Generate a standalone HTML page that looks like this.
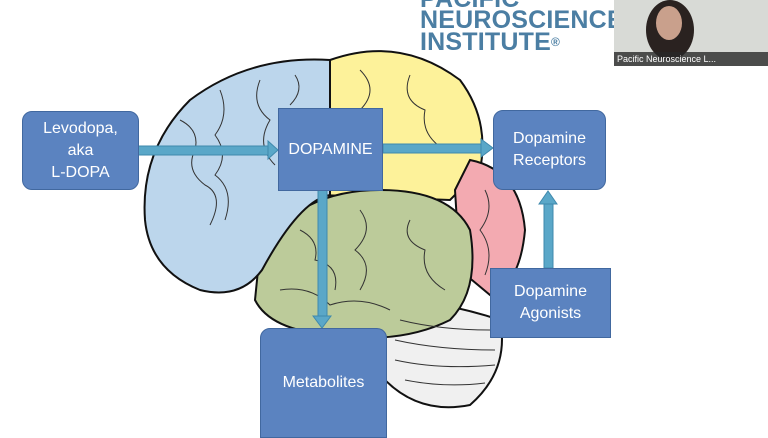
<!DOCTYPE html>
<html><head><meta charset="utf-8"><style>
body{margin:0;width:768px;height:432px;background:#fff;overflow:hidden;position:relative;font-family:"Liberation Sans",sans-serif}
.b{position:absolute;background:#5b83c0;border:1.5px solid #41689f;color:#fff;display:flex;align-items:center;justify-content:center;text-align:center;font-size:16px;line-height:22px;box-sizing:border-box}
.logo{position:absolute;left:420px;color:#4b7ea3;font-weight:bold;font-size:25px;letter-spacing:0.2px;line-height:22px}
</style></head><body>
<svg width="768" height="432" style="position:absolute;left:0;top:0">
<g stroke="#111" stroke-width="2">
<path d="M385,300 Q440,300 500,320 Q510,370 470,405 Q420,415 385,380 Z" fill="#f0f0f0"/>
<path d="M330,60 Q400,35 460,80 Q490,120 480,170 L450,200 L320,195 Z" fill="#fdf29a"/>
<path d="M470,160 Q520,170 525,230 Q520,285 490,295 L460,270 L455,190 Z" fill="#f3aab1"/>
<path d="M260,250 Q300,190 380,190 Q450,190 470,230 Q480,290 450,320 Q400,345 330,335 Q270,330 255,300 Z" fill="#bccb9a"/>
<path d="M330,60 Q250,55 190,100 Q140,150 145,220 Q150,270 200,290 Q240,300 262,270 Q300,200 330,195 Z" fill="#bcd6ec"/>
</g>
<g fill="none" stroke="#333" stroke-width="1">
<path d="M180,120 q20,10 15,30 q-10,20 10,35 q20,10 5,40"/>
<path d="M220,90 q10,25 -5,45 q15,20 0,40 q20,15 10,45"/>
<path d="M260,80 q-10,25 10,40 q-15,25 5,45"/>
<path d="M295,75 q10,15 -5,30"/>
<path d="M360,70 q20,20 0,40 q25,15 5,35"/>
<path d="M410,75 q-10,25 15,35 q-5,25 20,40"/>
<path d="M300,230 q20,10 15,30 q25,5 20,30"/>
<path d="M360,210 q15,20 -5,40 q20,15 5,40"/>
<path d="M410,220 q-10,20 15,30 q-5,25 20,40"/>
<path d="M280,290 q30,-5 50,15 q30,-10 60,5"/>
<path d="M485,190 q10,20 -5,40 q15,20 5,45"/>
<path d="M400,320 q40,10 90,10 M395,340 q45,10 100,10 M395,360 q45,10 100,5 M405,380 q40,8 80,3"/>
</g>
<g fill="#5aa7c8" stroke="#3f89ad" stroke-width="1">
<rect x="138" y="146" width="132" height="9"/><polygon points="268,141 278,150 268,159"/>
<rect x="383" y="144" width="100" height="9"/><polygon points="481,139 493,148 481,157"/>
<rect x="318" y="190" width="9" height="128"/><polygon points="313,316 322,328 331,316"/>
<rect x="544" y="202" width="9" height="66"/><polygon points="539,204 548,191 557,204"/>
</g>
</svg>
<div class="b" style="left:22px;top:111px;width:117px;height:79px;border-radius:10px">Levodopa,<br>aka<br>L-DOPA</div>
<div class="b" style="left:278px;top:108px;width:105px;height:83px">DOPAMINE</div>
<div class="b" style="left:493px;top:110px;width:113px;height:80px;border-radius:10px">Dopamine<br>Receptors</div>
<div class="b" style="left:490px;top:268px;width:121px;height:70px">Dopamine<br>Agonists</div>
<div class="b" style="left:260px;top:328px;width:127px;height:110px;border-radius:10px 10px 0 0">Metabolites</div>
<div class="logo" style="top:-12px">PACIFIC</div>
<div class="logo" style="top:9px">NEUROSCIENCE</div>
<div class="logo" style="top:31px">INSTITUTE<span style="font-size:12px;vertical-align:top">®</span></div>
<div style="position:absolute;left:614px;top:0;width:154px;height:66px;background:#d8dad6;overflow:hidden">
<div style="position:absolute;left:32px;top:0;width:48px;height:60px;border-radius:50%;background:#2a2220"></div>
<div style="position:absolute;left:42px;top:6px;width:26px;height:34px;border-radius:50%;background:#c9a08c"></div>
<div style="position:absolute;left:0;bottom:0;width:154px;height:14px;background:rgba(40,40,40,.8);color:#fff;font-size:9px;line-height:14px;padding-left:3px">Pacific Neuroscience L...</div>
</div>
</body></html>
